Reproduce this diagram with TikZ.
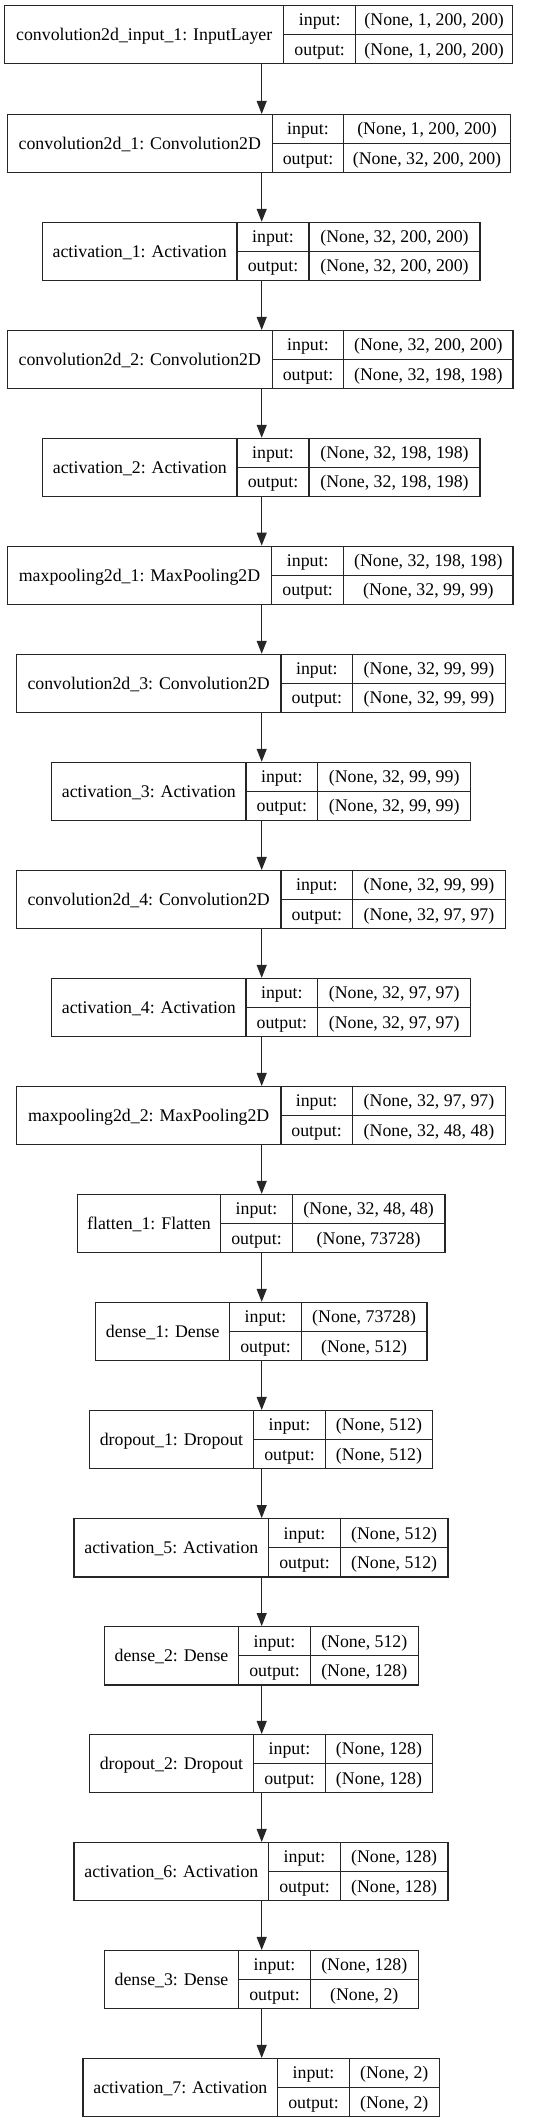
\documentclass[tikz,border=0pt]{standalone}
\usepackage{fontspec}
\setmainfont{Liberation Serif}
\usepackage{xcolor}
\definecolor{lineDark}{HTML}{262626}
\usepackage{tikz}
\usetikzlibrary{positioning,calc,arrows.meta}
\tikzset{%
  cellBox/.style={%
    rectangle,
    draw=lineDark,
    line width=1.1pt,
    inner sep=0pt,
    minimum height=29.2pt,
    text height=12pt,
    text depth=0.4pt,
    font=\fontsize{17.8pt}{20pt}\selectfont,
    align=center
  },
  layerBox/.style={%
    rectangle,
    inner sep=0pt,
    outer sep=0.55pt,
    minimum height=58.4pt
  },
  arrowLine/.style={%
    -{Triangle[length=13pt,width=10pt]},
    line width=1.1pt,
    color=lineDark
  }
}
% one keras layer: id, top, left, first split, second split, right, name, input, output
\newcommand{\kerasLayer}[9]{%
  \node[layerBox, minimum width={(#6-#3)*1pt}] (#1) at ({(#3+#6)/2},{#2+29.2}) {};
  \node[cellBox, minimum height=58.4pt, minimum width={(#4-#3)*1pt}] (#1-name) at ({(#3+#4)/2},{#2+29.2}) {#7};
  \node[cellBox, minimum width={(#5-#4)*1pt}] (#1-inl) at ({(#4+#5)/2},{#2+14.6}) {input:};
  \node[cellBox, minimum width={(#6-#5)*1pt}] (#1-inv) at ({(#5+#6)/2},{#2+14.6}) {#8};
  \node[cellBox, minimum width={(#5-#4)*1pt}] (#1-outl) at ({(#4+#5)/2},{#2+43.8}) {output:};
  \node[cellBox, minimum width={(#6-#5)*1pt}] (#1-outv) at ({(#5+#6)/2},{#2+43.8}) {#9};
}

\begin{document}
\begin{tikzpicture}[x=1pt, y=-1pt]
    \useasboundingbox (0,0) rectangle (541,2123);
    \coordinate (spine) at (261.7,0);

    % Input and first convolution block
    \kerasLayer{inputLayer}{5.5}{4.7}{283.7}{355.7}{512.7}{convolution2d\_input\_1: InputLayer}{(None, 1, 200, 200)}{(None, 1, 200, 200)}
    \kerasLayer{conv1}{114.5}{7.3}{272.3}{343.7}{510.3}{convolution2d\_1: Convolution2D}{(None, 1, 200, 200)}{(None, 32, 200, 200)}
    \kerasLayer{act1}{222.3}{42.3}{237}{309}{480}{activation\_1: Activation}{(None, 32, 200, 200)}{(None, 32, 200, 200)}
    \kerasLayer{conv2}{330.5}{7.3}{272.3}{343.7}{513}{convolution2d\_2: Convolution2D}{(None, 32, 200, 200)}{(None, 32, 198, 198)}
    \kerasLayer{act2}{438.3}{42.7}{237}{309}{480}{activation\_2: Activation}{(None, 32, 198, 198)}{(None, 32, 198, 198)}
    \kerasLayer{pool1}{546.2}{7.3}{271.7}{343.7}{513}{maxpooling2d\_1: MaxPooling2D}{(None, 32, 198, 198)}{(None, 32, 99, 99)}

    \draw[arrowLine] (inputLayer.south -| spine) -- (conv1.north -| spine);
    \draw[arrowLine] (conv1.south -| spine) -- (act1.north -| spine);
    \draw[arrowLine] (act1.south -| spine) -- (conv2.north -| spine);
    \draw[arrowLine] (conv2.south -| spine) -- (act2.north -| spine);
    \draw[arrowLine] (act2.south -| spine) -- (pool1.north -| spine);

    % Second convolution block
    \kerasLayer{conv3}{654.3}{16.3}{281}{352.7}{505.3}{convolution2d\_3: Convolution2D}{(None, 32, 99, 99)}{(None, 32, 99, 99)}
    \kerasLayer{act3}{762.3}{51.7}{246}{317.7}{470.7}{activation\_3: Activation}{(None, 32, 99, 99)}{(None, 32, 99, 99)}
    \kerasLayer{conv4}{870.5}{16.3}{281}{352.7}{505.3}{convolution2d\_4: Convolution2D}{(None, 32, 99, 99)}{(None, 32, 97, 97)}
    \kerasLayer{act4}{978.4}{51.7}{246}{317.7}{470.7}{activation\_4: Activation}{(None, 32, 97, 97)}{(None, 32, 97, 97)}
    \kerasLayer{pool2}{1086.5}{16.3}{281}{352.3}{505.7}{maxpooling2d\_2: MaxPooling2D}{(None, 32, 97, 97)}{(None, 32, 48, 48)}

    \draw[arrowLine] (pool1.south -| spine) -- (conv3.north -| spine);
    \draw[arrowLine] (conv3.south -| spine) -- (act3.north -| spine);
    \draw[arrowLine] (act3.south -| spine) -- (conv4.north -| spine);
    \draw[arrowLine] (conv4.south -| spine) -- (act4.north -| spine);
    \draw[arrowLine] (act4.south -| spine) -- (pool2.north -| spine);

    % Dense head
    \kerasLayer{flat1}{1194.4}{77.3}{220.7}{292.3}{445}{flatten\_1: Flatten}{(None, 32, 48, 48)}{(None, 73728)}
    \kerasLayer{dense1}{1302.4}{95.7}{229.7}{301.3}{427}{dense\_1: Dense}{(None, 73728)}{(None, 512)}
    \kerasLayer{drop1}{1410.5}{89.3}{253.7}{325.3}{432.7}{dropout\_1: Dropout}{(None, 512)}{(None, 512)}
    \kerasLayer{act5}{1518.6}{74}{268.7}{340.3}{448}{activation\_5: Activation}{(None, 512)}{(None, 512)}
    \kerasLayer{dense2}{1626.6}{104.3}{238.7}{310.3}{418.3}{dense\_2: Dense}{(None, 512)}{(None, 128)}
    \kerasLayer{drop2}{1734.5}{89.3}{253.7}{325.3}{432.7}{dropout\_2: Dropout}{(None, 128)}{(None, 128)}
    \kerasLayer{act6}{1842.5}{74}{268.7}{340.3}{448}{activation\_6: Activation}{(None, 128)}{(None, 128)}
    \kerasLayer{dense3}{1950.5}{104.3}{238.7}{310.3}{418.3}{dense\_3: Dense}{(None, 128)}{(None, 2)}
    \kerasLayer{act7}{2058.5}{83}{277.7}{349.3}{439.3}{activation\_7: Activation}{(None, 2)}{(None, 2)}

    \draw[arrowLine] (pool2.south -| spine) -- (flat1.north -| spine);
    \draw[arrowLine] (flat1.south -| spine) -- (dense1.north -| spine);
    \draw[arrowLine] (dense1.south -| spine) -- (drop1.north -| spine);
    \draw[arrowLine] (drop1.south -| spine) -- (act5.north -| spine);
    \draw[arrowLine] (act5.south -| spine) -- (dense2.north -| spine);
    \draw[arrowLine] (dense2.south -| spine) -- (drop2.north -| spine);
    \draw[arrowLine] (drop2.south -| spine) -- (act6.north -| spine);
    \draw[arrowLine] (act6.south -| spine) -- (dense3.north -| spine);
    \draw[arrowLine] (dense3.south -| spine) -- (act7.north -| spine);
\end{tikzpicture}
\end{document}
